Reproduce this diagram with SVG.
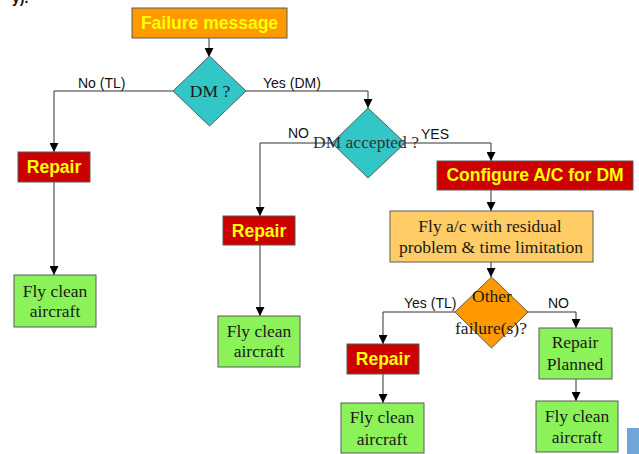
<svg xmlns="http://www.w3.org/2000/svg" width="639" height="454" viewBox="0 0 639 454">
<style>
.box{stroke:#5a5a5a;stroke-width:1}
.orange{fill:#FF9900}
.red{fill:#CC0000}
.green{fill:#8CF25A}
.light{fill:#FFCC66}
.teal{fill:#33C6C6}
.bt{font-family:"Liberation Sans",Arial,sans-serif;font-weight:bold;font-size:17.5px;fill:#FFFF00;text-anchor:middle}
.st{font-family:"Liberation Serif","Times New Roman",serif;font-size:17.5px;fill:#1a1a1a;text-anchor:middle}
.lb{font-family:"Liberation Sans",Arial,sans-serif;font-size:14px;fill:#111}
.ln{fill:none;stroke:#333;stroke-width:1}
</style>
<defs>
<marker id="ah" viewBox="0 0 10 10" refX="10" refY="5" markerWidth="9" markerHeight="9" markerUnits="userSpaceOnUse" orient="auto">
<path d="M0,0 L10,5 L0,10 Z" fill="#000"/>
</marker>
</defs>
<rect width="639" height="454" fill="#fff"/>
<text x="12" y="2.5" font-family="Liberation Sans, Arial, sans-serif" font-size="14" font-weight="bold" fill="#111">y).</text>
<rect x="627" y="428" width="12" height="26" fill="#6FA6D8"/>

<g id="connectors">
<path class="ln" d="M209,38 V57" marker-end="url(#ah)"/>
<path class="ln" d="M173,91 H54 V152" marker-end="url(#ah)"/>
<path class="ln" d="M54,182 V275" marker-end="url(#ah)"/>
<path class="ln" d="M246,91 H368 V108" marker-end="url(#ah)"/>
<path class="ln" d="M332,143 H260 V216" marker-end="url(#ah)"/>
<path class="ln" d="M260,245 V316" marker-end="url(#ah)"/>
<path class="ln" d="M405,143 H491 V161" marker-end="url(#ah)"/>
<path class="ln" d="M491,190 V211" marker-end="url(#ah)"/>
<path class="ln" d="M491,262 V277" marker-end="url(#ah)"/>
<path class="ln" d="M455,312 H383 V344" marker-end="url(#ah)"/>
<path class="ln" d="M383,374 V403" marker-end="url(#ah)"/>
<path class="ln" d="M528,312 H576 V328" marker-end="url(#ah)"/>
<path class="ln" d="M576,379 V401" marker-end="url(#ah)"/>
<text class="lb" x="78" y="88">No (TL)</text>
<text class="lb" x="263" y="88">Yes (DM)</text>
<text class="lb" x="288" y="138">NO</text>
<text class="lb" x="421" y="139">YES</text>
<text class="lb" x="404" y="308">Yes (TL)</text>
<text class="lb" x="548" y="308">NO</text>
</g>

<g id="failure">
<rect class="box orange" x="132" y="8" width="155" height="30"/>
<text class="bt" x="209.5" y="29.3">Failure message</text>
</g>
<g id="dm">
<polygon class="box teal" points="209.5,56 246,91 209.5,126 173,91"/>
<text class="st" x="210" y="97">DM ?</text>
</g>
<g id="repair1">
<rect class="box red" x="18" y="152" width="72" height="30"/>
<text class="bt" x="54" y="173">Repair</text>
</g>
<g id="fly1">
<rect class="box green" x="14" y="275" width="82" height="52"/>
<text class="st" x="55" y="297">Fly clean</text>
<text class="st" x="55" y="317">aircraft</text>
</g>
<g id="dmaccepted">
<polygon class="box teal" points="368,108 405,143 368,178 332,143"/>
<text class="st" x="366" y="148" style="fill:#333">DM accepted ?</text>
</g>
<g id="repair2">
<rect class="box red" x="223" y="216" width="72" height="29"/>
<text class="bt" x="259" y="237">Repair</text>
</g>
<g id="fly2">
<rect class="box green" x="218" y="316" width="82" height="51"/>
<text class="st" x="259" y="337">Fly clean</text>
<text class="st" x="259" y="357">aircraft</text>
</g>
<g id="configure">
<rect class="box red" x="437" y="161" width="196" height="29"/>
<text class="bt" x="535" y="181">Configure A/C for DM</text>
</g>
<g id="flyac">
<rect class="box light" x="390" y="211" width="203" height="51"/>
<text class="st" x="490" y="232">Fly a/c with residual</text>
<text class="st" x="491" y="253">problem &amp; time limitation</text>
</g>
<g id="other">
<polygon class="box orange" points="491.5,277 528,312 491.5,348 455,312"/>
<text class="st" x="492" y="302">Other</text>
<text class="st" x="491" y="334">failure(s)?</text>
</g>
<g id="repair3">
<rect class="box red" x="347" y="344" width="72" height="30"/>
<text class="bt" x="383" y="365">Repair</text>
</g>
<g id="fly3">
<rect class="box green" x="341" y="403" width="83" height="50"/>
<text class="st" x="382" y="423">Fly clean</text>
<text class="st" x="382" y="445">aircraft</text>
</g>
<g id="planned">
<rect class="box green" x="539" y="328" width="73" height="51"/>
<text class="st" x="575" y="348">Repair</text>
<text class="st" x="575" y="370">Planned</text>
</g>
<g id="fly4">
<rect class="box green" x="536" y="401" width="82" height="51"/>
<text class="st" x="577" y="422">Fly clean</text>
<text class="st" x="577" y="443">aircraft</text>
</g>
</svg>
